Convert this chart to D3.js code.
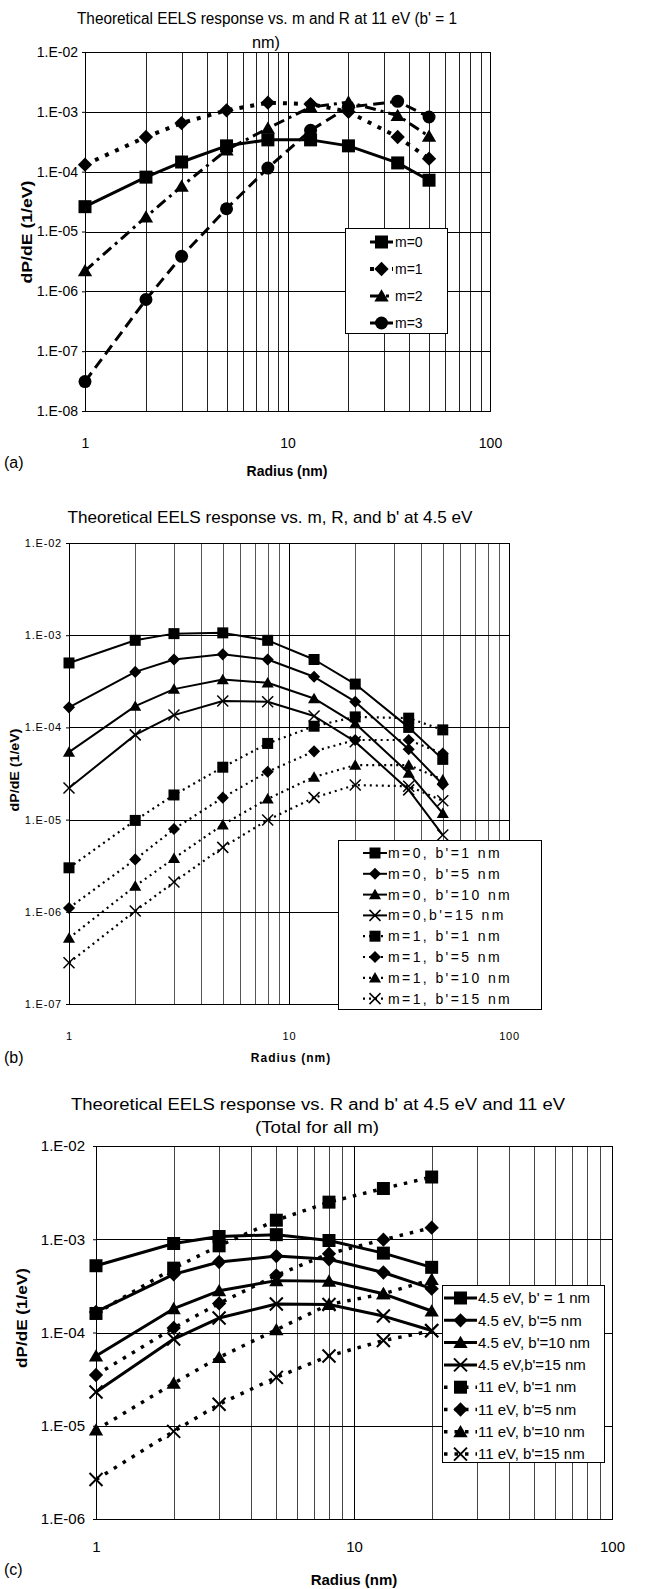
<!DOCTYPE html>
<html>
<head>
<meta charset="utf-8">
<script src="https://cdn.jsdelivr.net/npm/d3@7"></script>
<style>
	body { margin: 0; background: #fff; }
	svg { display: block; font-family: "Liberation Sans", Arial, sans-serif; }
	.grid line, .frame { shape-rendering: crispEdges; }
	.axis .domain { display: none; }
</style>
</head>
<body>
<svg id="chart" width="659" height="1589"></svg>
<script>

// ---- panel (a): 11 eV, b' = 1 nm, per m ----------------------------
const radiusA = [1, 2, 3, 5, 8, 13, 20, 35, 50];
const labelsA = ["m=0", "m=1", "m=2", "m=3"];
const a_m0 = [2.6e-5, 8.1e-5, 1.45e-4, 2.7e-4, 3.4e-4, 3.4e-4, 2.7e-4, 1.4e-4, 7.2e-5];
const a_m1 = [1.31e-4, 3.8e-4, 6.5e-4, 1.06e-3, 1.42e-3, 1.35e-3, 1.0e-3, 3.8e-4, 1.65e-4];
const a_m2 = [2.2e-6, 1.75e-5, 5.7e-5, 2.3e-4, 5.3e-4, 1.2e-3, 1.45e-3, 8.7e-4, 3.9e-4];
const a_m3 = [3.1e-8, 7.3e-7, 3.85e-6, 2.4e-5, 1.15e-4, 4.9e-4, 1.2e-3, 1.5e-3, 8.2e-4];

// ---- panel (b): 4.5 eV, m = 0 and 1, several b' --------------------
const radiusB = [1, 2, 3, 5, 8, 13, 20, 35, 50];
const labelsB = ["m=0, b'=1 nm", "m=0, b'=5 nm", "m=0, b'=10 nm", "m=0,b'=15 nm",
	"m=1, b'=1 nm", "m=1, b'=5 nm", "m=1, b'=10 nm", "m=1, b'=15 nm"];
const b_m0b1 = [5.0e-4, 8.8e-4, 1.04e-3, 1.06e-3, 8.8e-4, 5.45e-4, 2.95e-4, 1.0e-4, 4.5e-5];
const b_m0b5 = [1.65e-4, 4.0e-4, 5.45e-4, 6.2e-4, 5.45e-4, 3.54e-4, 1.9e-4, 5.8e-5, 2.4e-5];
const b_m0b10 = [5.4e-5, 1.7e-4, 2.6e-4, 3.3e-4, 3.05e-4, 2.06e-4, 1.1e-4, 3.2e-5, 1.17e-5];
const b_m0b15 = [2.2e-5, 8.3e-5, 1.36e-4, 1.93e-4, 1.9e-4, 1.33e-4, 7.0e-5, 2.1e-5, 6.8e-6];
const b_m1b1 = [3.0e-6, 9.8e-6, 1.85e-5, 3.7e-5, 6.7e-5, 1.03e-4, 1.3e-4, 1.26e-4, 9.4e-5];
const b_m1b5 = [1.1e-6, 3.7e-6, 7.9e-6, 1.73e-5, 3.3e-5, 5.5e-5, 7.3e-5, 7.3e-5, 5.2e-5];
const b_m1b10 = [5.2e-7, 1.9e-6, 3.8e-6, 8.8e-6, 1.68e-5, 2.9e-5, 3.9e-5, 3.9e-5, 2.7e-5];
const b_m1b15 = [2.8e-7, 1.02e-6, 2.1e-6, 5.0e-6, 9.9e-6, 1.73e-5, 2.37e-5, 2.3e-5, 1.6e-5];

// ---- panel (c): totals at 4.5 eV and 11 eV --------------------------
const radiusC = [1, 2, 3, 5, 8, 13, 20];
const labelsC = ["4.5 eV, b' = 1 nm", "4.5 eV, b'=5 nm", "4.5 eV, b'=10 nm", "4.5 eV,b'=15 nm",
	"11 eV, b'=1 nm", "11 eV, b'=5 nm", "11 eV, b'=10 nm", "11 eV, b'=15 nm"];
const c_45b1 = [5.2e-4, 9.0e-4, 1.07e-3, 1.12e-3, 9.7e-4, 7.1e-4, 5.0e-4];
const c_45b5 = [1.66e-4, 4.2e-4, 5.7e-4, 6.6e-4, 6.1e-4, 4.4e-4, 2.95e-4];
const c_45b10 = [5.6e-5, 1.8e-4, 2.8e-4, 3.6e-4, 3.55e-4, 2.6e-4, 1.7e-4];
const c_45b15 = [2.3e-5, 8.5e-5, 1.43e-4, 2.02e-4, 2.0e-4, 1.5e-4, 1.05e-4];
const c_11b1 = [1.6e-4, 4.9e-4, 8.5e-4, 1.6e-3, 2.5e-3, 3.5e-3, 4.65e-3];
const c_11b5 = [3.5e-5, 1.12e-4, 2.05e-4, 4.1e-4, 7.0e-4, 9.9e-4, 1.33e-3];
const c_11b10 = [9.0e-6, 2.85e-5, 5.4e-5, 1.07e-4, 2.0e-4, 2.6e-4, 3.7e-4];
const c_11b15 = [2.65e-6, 8.7e-6, 1.7e-5, 3.3e-5, 5.6e-5, 8.2e-5, 1.04e-4];

const xTickLabels = [1, 10, 100];

// --------------------------------------------------------------------

const svg = d3.select("#chart");

function markerPath(type, s) {
	switch (type) {
		case "square": return `M${-s},${-s}h${2 * s}v${2 * s}h${-2 * s}Z`;
		case "diamond": return `M0,${-s * 1.1}L${s * 1.1},0L0,${s * 1.1}L${-s * 1.1},0Z`;
		case "triangle": return `M0,${-s * 1.05}L${s * 1.1},${s * 0.85}L${-s * 1.1},${s * 0.85}Z`;
		case "circle": return d3.symbol(d3.symbolCircle, Math.PI * s * s)();
		case "x": return `M${-s},${-s}L${s},${s}M${-s},${s}L${s},${-s}`;
	}
}

function drawMarker(g, type, s, cx, cy, xw) {
	const p = g.append("path")
		.attr("d", markerPath(type, s))
		.attr("transform", `translate(${cx},${cy})`);
	if (type === "x")
		p.attr("fill", "none").attr("stroke", "#000").attr("stroke-width", xw);
	else
		p.attr("fill", "#000");
}

function text(g, str, x, y, o) {
	const t = g.append("text")
		.attr("x", x)
		.attr("y", y)
		.attr("dy", "0.35em")
		.attr("text-anchor", o.anchor || "middle")
		.attr("font-size", o.size)
		.attr("font-weight", o.bold ? "bold" : null)
		.attr("letter-spacing", o.ls || null)
		.attr("fill", "#000")
		.text(str);
	if (o.fit)
		t.attr("textLength", o.fit).attr("lengthAdjust", "spacingAndGlyphs");
	if (o.rotate)
		t.attr("transform", `rotate(-90,${x},${y})`);
	return t;
}

const isDecade = v => Math.abs(Math.log10(v) - Math.round(Math.log10(v))) < 1e-9;
const sciFormat = v => "1.E-" + String(-Math.round(Math.log10(v))).padStart(2, "0");

function drawPanel(p) {
	const g = svg.append("g").attr("class", "panel");

	const x = d3.scaleLog().domain([1, 100]).range([p.left, p.right]);
	const y = d3.scaleLog().domain(p.yDomain).range([p.bottom, p.top]);

	// grid
	const grid = g.append("g").attr("class", "grid");
	grid.selectAll("line.vx")
		.data(x.ticks())
		.enter().append("line")
		.attr("x1", d => Math.round(x(d)) + 0.5).attr("x2", d => Math.round(x(d)) + 0.5)
		.attr("y1", p.top).attr("y2", p.bottom)
		.attr("stroke", d => isDecade(d) ? "#000" : p.minor)
		.attr("stroke-width", 1);
	grid.selectAll("line.hy")
		.data(y.ticks().filter(isDecade))
		.enter().append("line")
		.attr("y1", d => Math.round(y(d)) + 0.5).attr("y2", d => Math.round(y(d)) + 0.5)
		.attr("x1", p.left).attr("x2", p.right)
		.attr("stroke", "#000")
		.attr("stroke-width", 1);

	g.append("rect")
		.attr("class", "frame")
		.attr("x", p.left + 0.5).attr("y", p.top + 0.5)
		.attr("width", p.right - p.left).attr("height", p.bottom - p.top)
		.attr("fill", "none").attr("stroke", "#000");

	// axes
	const yAxis = d3.axisLeft(y)
		.tickValues(y.ticks().filter(isDecade))
		.tickFormat(sciFormat)
		.tickSizeInner(3).tickSizeOuter(0)
		.tickPadding(p.yPad);
	g.append("g").attr("class", "axis")
		.attr("transform", `translate(${p.left},0)`)
		.call(yAxis)
		.call(a => a.selectAll("text")
			.attr("font-family", null)
			.attr("font-size", p.tickSize)
			.attr("letter-spacing", p.tickLs || null));

	const xAxis = d3.axisBottom(x)
		.tickValues(xTickLabels)
		.tickFormat(d3.format("d"))
		.tickSize(0)
		.tickPadding(p.xPad);
	g.append("g").attr("class", "axis")
		.attr("transform", `translate(0,${p.bottom})`)
		.call(xAxis)
		.call(a => a.selectAll("text")
			.attr("font-family", null)
			.attr("font-size", p.tickSize)
			.attr("letter-spacing", p.tickLs || null));

	// titles
	p.title.forEach(t => text(g, t.str, t.x, t.y, { size: p.titleSize, fit: t.w }));
	text(g, "dP/dE (1/eV)", p.yTitle.x, p.yTitle.y, { size: p.axisTitleSize, bold: true, rotate: true, fit: p.yTitle.w });
	text(g, "Radius (nm)", p.xTitle.x, p.xTitle.y, { size: p.axisTitleSize, bold: true, ls: p.xTitle.ls });
	text(g, p.letter, 4, p.letterY, { size: 16, anchor: "start" });

	// series
	const line = d3.line()
		.x(d => x(d[0]))
		.y(d => y(d[1]));

	const sg = g.append("g").attr("class", "series");
	p.series.forEach((values, i) => {
		const st = p.styles[i];
		const pts = p.radius.map((r, k) => [r, values[k]]);
		sg.append("path")
			.attr("d", line(pts))
			.attr("fill", "none")
			.attr("stroke", "#000")
			.attr("stroke-width", st.w)
			.attr("stroke-dasharray", st.dash)
			.attr("stroke-linejoin", "round");
	});
	p.series.forEach((values, i) => {
		const st = p.styles[i];
		p.radius.forEach((r, k) => drawMarker(sg, st.mark, p.markSize, x(r), y(values[k]), p.xStroke));
	});

	// legend
	const L = p.legend;
	const lg = g.append("g").attr("class", "legend");
	lg.append("rect")
		.attr("class", "frame")
		.attr("x", L.x0 + 0.5).attr("y", L.y0 + 0.5)
		.attr("width", L.x1 - L.x0).attr("height", L.y1 - L.y0)
		.attr("fill", "#fff").attr("stroke", "#000");
	p.labels.forEach((lab, i) => {
		const st = p.styles[i];
		const cy = L.row0 + i * L.step;
		lg.append("line")
			.attr("x1", L.sx0).attr("x2", L.sx1)
			.attr("y1", cy).attr("y2", cy)
			.attr("stroke", "#000")
			.attr("stroke-width", st.w)
			.attr("stroke-dasharray", st.dash);
		drawMarker(lg, st.mark, p.markSize, (L.sx0 + L.sx1) / 2, cy, p.xStroke);
		text(lg, lab, L.tx, cy, { size: L.size, anchor: "start", ls: L.ls });
	});
}

// --------------------------------------------------------------------

drawPanel({
	letter: "(a)", letterY: 462,
	left: 85, right: 490, top: 52, bottom: 411,
	yDomain: [1e-8, 1e-2],
	minor: "#222",
	tickSize: 14, yPad: 4, xPad: 27,
	titleSize: 16,
	title: [
		{ str: "Theoretical EELS response vs. m and R at 11 eV (b' = 1", x: 267, y: 18, w: 380 },
		{ str: "nm)", x: 266, y: 42, w: 28 }
	],
	axisTitleSize: 14,
	yTitle: { x: 27, y: 232, w: 103 },
	xTitle: { x: 287, y: 471 },
	radius: radiusA,
	series: [a_m0, a_m1, a_m2, a_m3],
	labels: labelsA,
	styles: [
		{ mark: "square", w: 3, dash: null },
		{ mark: "diamond", w: 4, dash: "4 7" },
		{ mark: "triangle", w: 3, dash: "11 5 3 5" },
		{ mark: "circle", w: 3, dash: "11 6" }
	],
	markSize: 6.5, xStroke: 2,
	legend: { x0: 345, y0: 228, x1: 447, y1: 333, row0: 242, step: 27,
		sx0: 370, sx1: 393, tx: 395, size: 14 }
});

drawPanel({
	letter: "(b)", letterY: 1057,
	left: 69, right: 509, top: 543, bottom: 1004,
	yDomain: [1e-7, 1e-2],
	minor: "#555",
	tickSize: 11, tickLs: 0.8, yPad: 4, xPad: 28,
	titleSize: 17,
	title: [
		{ str: "Theoretical EELS response vs. m, R, and b' at 4.5 eV", x: 270, y: 517, w: 405 }
	],
	axisTitleSize: 12,
	yTitle: { x: 15, y: 770, w: 83 },
	xTitle: { x: 291, y: 1058, ls: 1 },
	radius: radiusB,
	series: [b_m0b1, b_m0b5, b_m0b10, b_m0b15, b_m1b1, b_m1b5, b_m1b10, b_m1b15],
	labels: labelsB,
	styles: [
		{ mark: "square", w: 2, dash: null },
		{ mark: "diamond", w: 2, dash: null },
		{ mark: "triangle", w: 2, dash: null },
		{ mark: "x", w: 2, dash: null },
		{ mark: "square", w: 2.2, dash: "2 4" },
		{ mark: "diamond", w: 2.2, dash: "2 4" },
		{ mark: "triangle", w: 2.2, dash: "2 4" },
		{ mark: "x", w: 2.2, dash: "2 4" }
	],
	markSize: 5.5, xStroke: 1.5,
	legend: { x0: 338, y0: 840, x1: 541, y1: 1009, row0: 853, step: 20.8,
		sx0: 363, sx1: 387, tx: 388, size: 14, ls: 2.4 }
});

drawPanel({
	letter: "(c)", letterY: 1569,
	left: 96, right: 612, top: 1146, bottom: 1519,
	yDomain: [1e-6, 1e-2],
	minor: "#444",
	tickSize: 15, yPad: 8, xPad: 22,
	titleSize: 16,
	title: [
		{ str: "Theoretical EELS response vs. R and b' at 4.5 eV and 11 eV", x: 318, y: 1104, w: 494 },
		{ str: "(Total for all m)", x: 317, y: 1127, w: 124 }
	],
	axisTitleSize: 15,
	yTitle: { x: 22, y: 1318, w: 100 },
	xTitle: { x: 354, y: 1580 },
	radius: radiusC,
	series: [c_45b1, c_45b5, c_45b10, c_45b15, c_11b1, c_11b5, c_11b10, c_11b15],
	labels: labelsC,
	styles: [
		{ mark: "square", w: 3, dash: null },
		{ mark: "diamond", w: 3, dash: null },
		{ mark: "triangle", w: 3, dash: null },
		{ mark: "x", w: 3, dash: null },
		{ mark: "square", w: 3.5, dash: "3.5 7" },
		{ mark: "diamond", w: 3.5, dash: "3.5 7" },
		{ mark: "triangle", w: 3.5, dash: "3.5 7" },
		{ mark: "x", w: 3.5, dash: "3.5 7" }
	],
	markSize: 6.5, xStroke: 2,
	legend: { x0: 442, y0: 1285, x1: 604, y1: 1462, row0: 1298, step: 22.3,
		sx0: 444, sx1: 477, tx: 478, size: 15 }
});

</script>
</body>
</html>
